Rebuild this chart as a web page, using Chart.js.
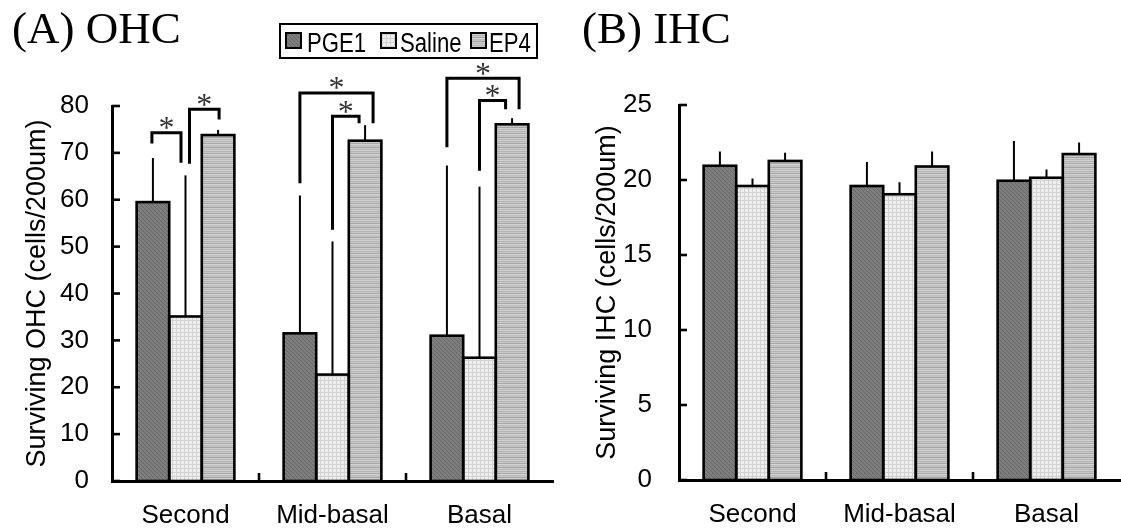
<!DOCTYPE html>
<html>
<head>
<meta charset="utf-8">
<script src="https://cdn.jsdelivr.net/npm/chart.js@4.4.1/dist/chart.umd.min.js"></script>
<style>
  html, body { margin:0; padding:0; background:#fff; width:1121px; height:531px; overflow:hidden; }
  #wrapA { position:absolute; left:0; top:0; width:560px; height:531px; }
  #wrapB { position:absolute; left:560px; top:0; width:561px; height:531px; }
  .ttl { position:absolute; font-family:"Liberation Serif","Times New Roman",serif; font-size:45px; line-height:1; color:#000; white-space:nowrap; }
  #legend { position:absolute; left:279px; top:23px; width:259px; height:36px; box-sizing:border-box; border:2px solid #000; background:#fff; }
  .sw { position:absolute; top:7px; width:17px; height:17px; box-sizing:border-box; border:2px solid #000; }
  .sw canvas { display:block; }
  .lt { position:absolute; top:5px; font-family:"Liberation Sans",Arial,sans-serif; font-size:27px; line-height:1; color:#000; white-space:nowrap; transform:scaleX(0.82); transform-origin:0 0; }
</style>
</head>
<body>
<div id="wrapA"><canvas id="cA" width="560" height="531"></canvas></div>
<div id="wrapB"><canvas id="cB" width="561" height="531"></canvas></div>
<div class="ttl" style="left:12px; top:6px;">(A) OHC</div>
<div class="ttl" style="left:582px; top:6px;">(B) IHC</div>
<div id="legend"></div>
<script>
// ---------------- data ----------------
const categories = ['Second', 'Mid-basal', 'Basal'];
const groups = ['PGE1', 'Saline', 'EP4'];

// (A) OHC: means and upward error (SD)
const ohcPGE1   = [59.5, 31.5, 31.0];
const ohcSaline = [35.1, 22.7, 26.3];
const ohcEP4    = [73.8, 72.6, 76.1];
const ohcPGE1Err   = [9.4, 29.4, 36.3];
const ohcSalineErr = [30.1, 28.4, 36.5];
const ohcEP4Err    = [1.1, 3.3, 1.3];
const ohcTickValues = [0, 10, 20, 30, 40, 50, 60, 70, 80];

// (B) IHC
const ihcPGE1   = [20.95, 19.6, 19.95];
const ihcSaline = [19.6, 19.05, 20.15];
const ihcEP4    = [21.27, 20.9, 21.73];
const ihcPGE1Err   = [0.95, 1.6, 2.65];
const ihcSalineErr = [0.5, 0.8, 0.55];
const ihcEP4Err    = [0.55, 1.0, 0.77];
const ihcTickValues = [0, 5, 10, 15, 20, 25];

// significance brackets on (A): [category, fromGroup, toGroup, bracketTop, leftLegEnd, rightLegEnd]
const ohcBrackets = [
  [0, 0, 1, 74.3, 72.0, 67.9],
  [0, 1, 2, 79.3, 67.7, 77.1],
  [1, 0, 2, 82.8, 63.5, 76.3],
  [1, 1, 2, 77.8, 53.6, 76.3],
  [2, 0, 2, 85.9, 71.2, 79.3],
  [2, 1, 2, 81.2, 66.2, 79.3]
];
const sigLabel = '*';

// ---------------- styles ----------------
const bracketLegShift = [[-1, -4.5], [4, 1], [0, 8], [0, -6], [0, 7], [0, -6.5]];
const FONT = '"Liberation Sans", Arial, sans-serif';

function patternSource(kind) {
  const c = document.createElement('canvas');
  const ctx = c.getContext('2d');
  if (kind === 0) {
    c.width = 4; c.height = 4;
    ctx.fillStyle = '#7e7e7e'; ctx.fillRect(0, 0, 4, 4);
    ctx.fillStyle = '#686868';
    for (let i = 0; i < 4; i++) ctx.fillRect(i, i, 1, 1);
  } else if (kind === 1) {
    c.width = 4; c.height = 4;
    ctx.fillStyle = '#eeeeee'; ctx.fillRect(0, 0, 4, 4);
    ctx.fillStyle = '#d2d2d2';
    ctx.fillRect(0, 0, 4, 1); ctx.fillRect(0, 0, 1, 4);
  } else {
    const rows = ['#cfcfcf', '#b4b4b4', '#c9c9c9', '#a9a9a9', '#d3d3d3', '#bdbdbd', '#c4c4c4', '#a4a4a4', '#cccccc', '#b8b8b8'];
    c.width = 4; c.height = rows.length;
    rows.forEach((col, i) => { ctx.fillStyle = col; ctx.fillRect(0, i, 4, 1); });
  }
  return c;
}
function patternsFor(ctx) {
  return [0, 1, 2].map(k => ctx.createPattern(patternSource(k), 'repeat'));
}

// legend (HTML)
(function buildLegend() {
  const lg = document.getElementById('legend');
  const swLeft = [4, 99, 189];
  const txLeft = [26, 119, 208];
  groups.forEach((g, i) => {
    const sw = document.createElement('div');
    sw.className = 'sw'; sw.style.left = swLeft[i] + 'px';
    const cv = document.createElement('canvas'); cv.width = 13; cv.height = 13;
    const cx = cv.getContext('2d');
    cx.fillStyle = cx.createPattern(patternSource(i), 'repeat'); cx.fillRect(0, 0, 13, 13);
    sw.appendChild(cv); lg.appendChild(sw);
    const t = document.createElement('div');
    t.className = 'lt'; t.style.left = txLeft[i] + 'px'; t.textContent = g;
    lg.appendChild(t);
  });
})();

function annotPlugin(brackets, shifts) {
  return {
    id: 'annot',
    afterDatasetsDraw(chart) {
      const ctx = chart.ctx, ys = chart.scales.y, xs = chart.scales.x, ca = chart.chartArea;
      ctx.save();
      ctx.strokeStyle = '#000';
      // error bars (upper only)
      chart.data.datasets.forEach((ds, di) => {
        chart.getDatasetMeta(di).data.forEach((bar, i) => {
          const p = bar.getProps(['x', 'y'], true);
          const top = ys.getPixelForValue(ds.data[i] + ds.err[i]);
          ctx.lineWidth = 2;
          ctx.beginPath(); ctx.moveTo(p.x, p.y); ctx.lineTo(p.x, top); ctx.stroke();
        });
      });
      // bar outlines
      ctx.lineWidth = 2.6;
      chart.data.datasets.forEach((ds, di) => {
        chart.getDatasetMeta(di).data.forEach((bar) => {
          const p = bar.getProps(['x', 'y', 'base', 'width'], true);
          ctx.strokeRect(p.x - p.width / 2, p.y, p.width, p.base - p.y);
        });
      });
      // inward y ticks
      ctx.lineWidth = 2.6;
      ys.ticks.forEach(t => {
        const py = ys.getPixelForValue(t.value);
        ctx.beginPath(); ctx.moveTo(ca.left, py); ctx.lineTo(ca.left + 8, py); ctx.stroke();
      });
      // category boundary ticks on x axis
      for (let i = 1; i < chart.data.labels.length; i++) {
        const px = (xs.getPixelForValue(i - 1) + xs.getPixelForValue(i)) / 2;
        ctx.beginPath(); ctx.moveTo(px, ca.bottom); ctx.lineTo(px, ca.bottom - 8); ctx.stroke();
      }
      // significance brackets
      if (brackets) {
        ctx.lineWidth = 3; ctx.lineJoin = 'miter'; ctx.lineCap = 'butt';
        ctx.font = '32px "Liberation Serif", "Times New Roman", serif';
        ctx.fillStyle = '#333';
        brackets.forEach((b, k) => {
          const [cat, g1, g2, top, lEnd, rEnd] = b;
          const lx = chart.getDatasetMeta(g1).data[cat].x + shifts[k][0];
          const rx = chart.getDatasetMeta(g2).data[cat].x + shifts[k][1];
          const ty = ys.getPixelForValue(top);
          ctx.beginPath();
          ctx.moveTo(lx, ys.getPixelForValue(lEnd));
          ctx.lineTo(lx, ty); ctx.lineTo(rx, ty);
          ctx.lineTo(rx, ys.getPixelForValue(rEnd));
          ctx.stroke();
          const m = ctx.measureText(sigLabel);
          const h = m.actualBoundingBoxAscent + m.actualBoundingBoxDescent;
          const cy = ty - 9.5;
          ctx.textAlign = 'center'; ctx.textBaseline = 'alphabetic';
          ctx.fillText(sigLabel, (lx + rx) / 2, cy + h / 2 - m.actualBoundingBoxDescent);
        });
      }
      ctx.restore();
    }
  };
}

function makeChart(id, vals, errs, tickVals, yTitle, geo, brackets, shifts) {
  const canvas = document.getElementById(id);
  const pats = patternsFor(canvas.getContext('2d'));
  return new Chart(canvas, {
    type: 'bar',
    data: {
      labels: categories,
      datasets: groups.map((g, i) => ({
        label: g, data: vals[i], err: errs[i],
        backgroundColor: pats[i], borderWidth: 0,
        categoryPercentage: 0.665, barPercentage: 1.0
      }))
    },
    options: {
      responsive: false, animation: false, devicePixelRatio: 1,
      layout: { padding: { top: geo.top, right: geo.right, left: 0, bottom: 0 } },
      plugins: { legend: { display: false }, tooltip: { enabled: false } },
      scales: {
        x: {
          grid: { display: false, drawTicks: false },
          border: { display: true, color: '#000', width: 3 },
          ticks: { color: '#000', font: { family: FONT, size: 26 }, padding: geo.xPad },
          afterFit(s) { s.height = geo.xh; }
        },
        y: {
          min: tickVals[0], max: tickVals[tickVals.length - 1],
          grid: { display: false, drawTicks: false },
          border: { display: true, color: '#000', width: 3 },
          ticks: { stepSize: tickVals[1] - tickVals[0], color: '#000', font: { family: FONT, size: 26 }, padding: geo.yPad },
          title: { display: true, text: yTitle, color: '#000', font: { family: FONT, size: 27 }, padding: { top: geo.tPad, bottom: 0 } },
          afterFit(s) { s.width = geo.yw; }
        }
      }
    },
    plugins: [annotPlugin(brackets, shifts)]
  });
}

makeChart('cA', [ohcPGE1, ohcSaline, ohcEP4], [ohcPGE1Err, ohcSalineErr, ohcEP4Err], ohcTickValues,
  'Surviving OHC (cells/200um)', { top: 106, right: 7, xh: 50, yw: 112, yPad: 23, xPad: 19, tPad: 21 },
  ohcBrackets, bracketLegShift);
makeChart('cB', [ihcPGE1, ihcSaline, ihcEP4], [ihcPGE1Err, ihcSalineErr, ihcEP4Err], ihcTickValues,
  'Surviving IHC (cells/200um)', { top: 105, right: 1, xh: 51, yw: 119, yPad: 27, xPad: 19, tPad: 31 },
  null, null);
</script>
</body>
</html>
